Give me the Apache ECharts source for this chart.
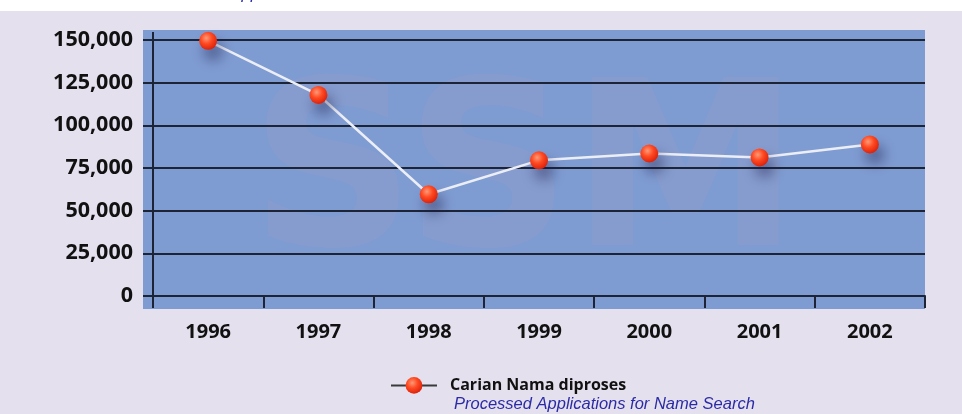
<!DOCTYPE html>
<html>
<head>
<meta charset="utf-8">
<script src="https://cdn.jsdelivr.net/npm/echarts@6/dist/echarts.min.js"></script>
<style>
  html, body { margin: 0; padding: 0; background: #ffffff; }
  #chart { width: 962px; height: 414px; }
</style>
</head>
<body>
<div id="chart"></div>
<script>
// data
const years = ['1996', '1997', '1998', '1999', '2000', '2001', '2002'];
const processed = [149500, 117800, 59600, 79500, 83500, 81200, 88800];
const yTicks = [0, 25000, 50000, 75000, 100000, 125000, 150000];
const seriesName = 'Carian Nama diproses';
const subtitle = 'Processed Applications for Name Search';

const chart = echarts.init(document.getElementById('chart'));

const ball = {
  type: 'radial', x: 0.4, y: 0.35, r: 0.7,
  colorStops: [
    { offset: 0, color: '#ff9a78' },
    { offset: 0.45, color: '#ff4a22' },
    { offset: 1, color: '#d81d08' }
  ]
};

const option = {
  animation: false,
  backgroundColor: '#ffffff',
  graphic: [
    // dotted lavender page and blue panel behind the plot
    { type: 'rect', z: -10, shape: { x: 0, y: 11, width: 962, height: 403 }, style: { fill: '#e5e0ee' } },
    { type: 'rect', z: -9, shape: { x: 143, y: 30, width: 782, height: 279 }, style: { fill: '#7f9cd2' } },
    { type: 'text', z: -8, left: 250, top: 70,
      style: { text: 'SSM', font: 'bold 230px "DejaVu Sans"', fill: 'rgba(165,158,190,0.18)' } },
    // y axis runs a little above the top gridline
    { type: 'line', z: 5, shape: { x1: 153, y1: 32, x2: 153, y2: 40 }, style: { stroke: '#1d2436', lineWidth: 2 } }
  ],
  title: [
    { text: subtitle, left: 449, top: 391,
      textStyle: { fontFamily: 'Liberation Sans', fontStyle: 'italic', fontWeight: 'normal', fontSize: 16.5, color: '#2b2ba6' } },
    { text: subtitle, left: 143, top: -19,
      textStyle: { fontFamily: 'Liberation Sans', fontStyle: 'italic', fontWeight: 'normal', fontSize: 16.5, color: '#2b2ba6' } }
  ],
  legend: {
    left: 385, top: 372,
    itemWidth: 46, itemHeight: 21,
    data: [seriesName],
    lineStyle: { color: '#3a3a3a', width: 2 },
    textStyle: { fontFamily: 'Open Sans', fontWeight: 'bold', fontSize: 16, color: '#111', padding: [0, 0, 0, 8] }
  },
  grid: { left: 153, right: 37, top: 40, bottom: 118 },
  xAxis: {
    type: 'category',
    data: years,
    boundaryGap: true,
    axisLine: { lineStyle: { color: '#1d2436', width: 2 } },
    axisTick: { show: true, length: 12, lineStyle: { color: '#1d2436', width: 2 } },
    axisLabel: { margin: 26, fontFamily: 'Open Sans', fontWeight: 'bold', fontSize: 20, color: '#111' },
    splitLine: { show: false }
  },
  yAxis: {
    type: 'value',
    min: 0, max: 150000, interval: 25000,
    axisLine: { show: true, lineStyle: { color: '#1d2436', width: 2 } },
    axisTick: { show: true, length: 10, lineStyle: { color: '#1d2436', width: 2 } },
    axisLabel: {
      margin: 20, fontFamily: 'Open Sans', fontWeight: 'bold', fontSize: 21.5, color: '#111',
      formatter: v => yTicks.includes(v) ? v.toLocaleString('en-US') : ''
    },
    splitLine: { show: true, lineStyle: { color: '#1d2436', width: 2 } }
  },
  series: [{
    name: seriesName,
    type: 'line',
    data: processed,
    symbol: 'circle',
    symbolSize: 18,
    lineStyle: { color: '#eceef6', width: 2.5 },
    itemStyle: {
      color: ball,
      shadowColor: 'rgba(25,25,70,0.55)',
      shadowBlur: 14,
      shadowOffsetX: 5,
      shadowOffsetY: 10
    },
    z: 10
  }]
};

chart.setOption(option);
</script>
</body>
</html>
